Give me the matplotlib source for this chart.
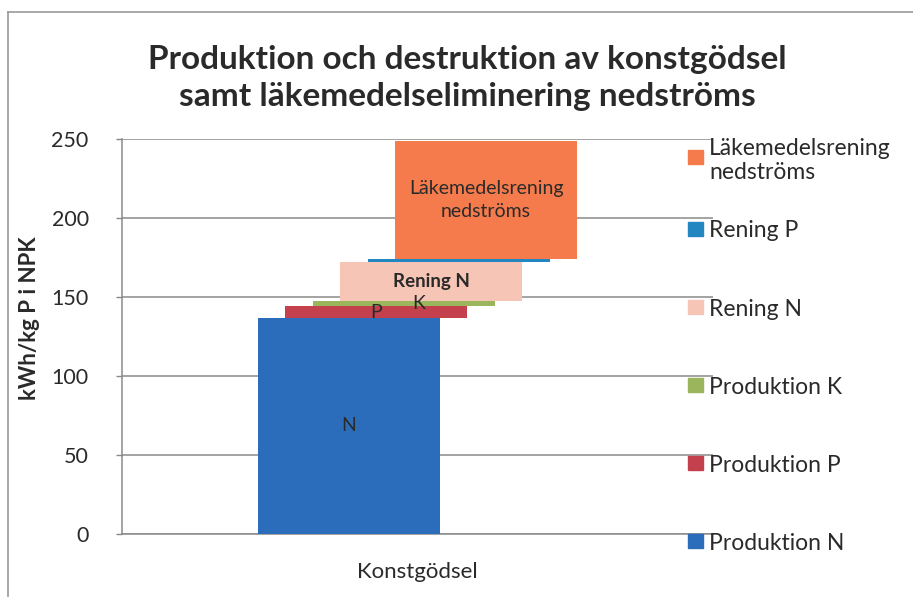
import matplotlib.pyplot as plt
from matplotlib.patches import Rectangle
from matplotlib.lines import Line2D

plt.rcParams['font.family'] = ['Lato', 'DejaVu Sans']

# segments from bottom to top, each bar starts where the previous one ended
series = ['Produktion N', 'Produktion P', 'Produktion K',
          'Rening N', 'Rening P', 'Läkemedelsrening\nnedströms']
values = [137, 7, 3.5, 24.5, 2, 75]
colors = ['#2b6dbb', '#c4404c', '#9bb55c', '#f7c5b6', '#2486c1', '#f57b4c']
bar_text = ['N', 'P', 'K', 'Rening N', None, 'Läkemedelsrening\nnedströms']
category = 'Konstgödsel'
yticks = [0, 50, 100, 150, 200, 250]

txt = '#2a2a2a'
W, H = 913, 597
fig = plt.figure(figsize=(W / 100, H / 100), dpi=100)
ax = fig.add_axes([122 / W, 1 - 534 / H, (713 - 122) / W, (534 - 139) / H])

width = 0.308
step = 0.0464
bottom = 0
for i, (v, c) in enumerate(zip(values, colors)):
    x = 0.5 + (i - 2.5) * step
    ax.bar(x, v, width=width, bottom=bottom, color=c, zorder=3)
    lab = bar_text[i]
    if lab:
        dx = 0.026 if lab == 'K' else 0
        weight = 'bold' if lab == 'Rening N' else 'normal'
        size = 13.5 if lab == 'Rening N' else 14
        ax.text(x + dx, bottom + v / 2, lab, ha='center', va='center',
                fontsize=size, color=txt, fontweight=weight,
                linespacing=1.4, zorder=4)
    bottom += v

ax.set_xlim(0, 1)
ax.set_ylim(0, 250)
ax.set_yticks(yticks)
ax.set_xticks([0.5])
ax.set_xticklabels([category])
ax.tick_params(axis='x', length=0, pad=20, labelsize=16, labelcolor=txt)
ax.tick_params(axis='y', length=4, width=1, color='#888888', pad=20,
               labelsize=15.5, labelcolor=txt)
ax.grid(axis='y', color='#8a8a8a', linewidth=1.1, zorder=0)
for s in ['top', 'right']:
    ax.spines[s].set_visible(False)
for s in ['left', 'bottom']:
    ax.spines[s].set_color('#8a8a8a')
    ax.spines[s].set_linewidth(1.1)

fig.text(30 / W, 1 - 318 / H, 'kWh/kg P i NPK', rotation=90, ha='center',
         va='center', fontsize=16, fontweight='bold', color=txt)
fig.text(467 / W, 1 - 78 / H,
         'Produktion och destruktion av konstgödsel\n'
         'samt läkemedelseliminering nedströms',
         ha='center', va='center', fontsize=24, fontweight='bold',
         color=txt, linespacing=1.3)

# legend, top entry first
leg_y = [157, 229, 307, 385, 463, 541]
for lab, c, y in zip(series[::-1], colors[::-1], leg_y):
    fig.patches.append(Rectangle((688 / W, 1 - (y + 7) / H), 15 / W, 14 / H,
                                 transform=fig.transFigure, color=c))
    fig.text(709 / W, 1 - y / H, lab, ha='left', va='center_baseline',
             fontsize=16.5, color=txt, linespacing=1.15)

# outer chart frame (left and top edges)
fig.add_artist(Line2D([8 / W, 8 / W], [0, 1 - 12 / H], color='#999999',
                      linewidth=1.2, transform=fig.transFigure))
fig.add_artist(Line2D([8 / W, 1], [1 - 12 / H, 1 - 12 / H], color='#999999',
                      linewidth=1.2, transform=fig.transFigure))

fig.savefig('out.png', dpi=100)
